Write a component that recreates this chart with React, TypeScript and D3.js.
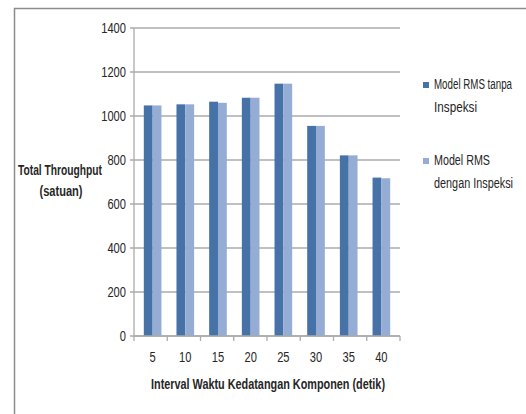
import React from 'react';
import * as d3 from 'd3';

const intervals = ['5', '10', '15', '20', '25', '30', '35', '40'];
const tanpaInspeksi = [1048, 1053, 1065, 1083, 1147, 955, 821, 720];
const denganInspeksi = [1048, 1053, 1060, 1083, 1147, 955, 821, 717];
const yTicks = [0, 200, 400, 600, 800, 1000, 1200, 1400];
const seriesNames = [['Model RMS tanpa', 'Inspeksi'], ['Model RMS', 'dengan Inspeksi']];
const legendWidths = [[78, 43], [56, 79]];
const colors = ['#4672a8', '#95acd4'];

const W = 526;
const H = 414;
const plot = { left: 134, right: 400, top: 28, bottom: 336 };
const font = '"Liberation Sans", Arial, sans-serif';

// squeeze text to the narrow width the original font had
const T: React.FC<{ x: number; y: number; w?: number; anchor?: string; bold?: boolean; size?: number; children: string }> =
  ({ x, y, w, anchor = 'start', bold = false, size = 14, children }) => (
    <text x={x} y={y} textAnchor={anchor} fontSize={size} fontWeight={bold ? 'bold' : 'normal'} fill="#262626"
      textLength={w} lengthAdjust={w ? 'spacingAndGlyphs' : undefined}>{children}</text>
  );

const App: React.FC = () => {
  const x = d3.scaleBand<string>().domain(intervals).range([plot.left, plot.right]).paddingInner(0.46).paddingOuter(0.3);
  const inner = d3.scaleBand<number>().domain([0, 1]).range([0, x.bandwidth()]);
  const y = d3.scaleLinear().domain([0, 1400]).range([plot.bottom, plot.top]);
  const bounds = d3.range(intervals.length + 1).map(i => plot.left + i * (plot.right - plot.left) / intervals.length);
  const series = [tanpaInspeksi, denganInspeksi];

  return (
    <svg width={W} height={H} style={{ position: 'absolute', left: 0, top: 0 }} fontFamily={font}>
      <rect x={0} y={0} width={W} height={H} fill="#fff" />
      <rect x={14.5} y={8.5} width={W + 10} height={H + 10} fill="none" stroke="#8c8c8c" strokeWidth={1.5} />

      {/* grid */}
      {yTicks.map(t => (
        <g key={t}>
          <line x1={plot.left - 4} x2={plot.right} y1={y(t)} y2={y(t)} stroke="#ababab" strokeWidth={1.3} />
          <T x={plot.left - 8} y={y(t) + 5} anchor="end" w={String(t).length * 6.2}>{String(t)}</T>
        </g>
      ))}
      <line x1={plot.left} x2={plot.left} y1={plot.top} y2={plot.bottom} stroke="#ababab" strokeWidth={1.3} />

      {/* bars */}
      {series.map((vals, s) =>
        intervals.map((c, i) => (
          <rect key={`${s}-${i}`}
            x={(x(c) as number) + (inner(s) as number)}
            y={y(vals[i])}
            width={inner.bandwidth()}
            height={plot.bottom - y(vals[i])}
            fill={colors[s]} />
        ))
      )}

      {/* x axis */}
      <line x1={plot.left} x2={plot.right} y1={plot.bottom} y2={plot.bottom} stroke="#ababab" strokeWidth={1.3} />
      {bounds.map((b, i) => (
        <line key={i} x1={b} x2={b} y1={plot.bottom} y2={plot.bottom + 5} stroke="#ababab" strokeWidth={1.3} />
      ))}
      {intervals.map(c => (
        <T key={c} x={(x(c) as number) + x.bandwidth() / 2} y={362} anchor="middle" w={c.length * 6.2}>{c}</T>
      ))}
      <T x={268} y={389} anchor="middle" bold w={234}>Interval Waktu Kedatangan Komponen (detik)</T>

      {/* y title */}
      <T x={60} y={175} anchor="middle" bold w={84}>Total Throughput</T>
      <T x={61} y={196} anchor="middle" bold w={43}>(satuan)</T>

      {/* legend */}
      {seriesNames.map((lines, s) => (
        <g key={s} transform={`translate(423, ${s === 0 ? 82 : 158})`}>
          <rect x={0} y={0} width={6} height={6} fill={colors[s]} />
          <T x={11} y={7} w={legendWidths[s][0]}>{lines[0]}</T>
          <T x={11} y={30} w={legendWidths[s][1]}>{lines[1]}</T>
        </g>
      ))}
    </svg>
  );
};

export default App;
